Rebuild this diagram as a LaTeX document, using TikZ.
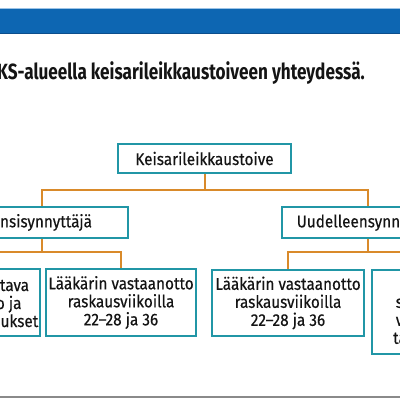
\documentclass[tikz,border=0pt]{standalone}
\usepackage{fontspec}
\setmainfont{Fira Sans}[FakeStretch=0.9, FakeBold=0.4]
\newfontfamily\titlefam{Fira Sans}[FakeStretch=0.78]
\definecolor{boxc}{HTML}{2196A6}
\definecolor{orng}{HTML}{D98A2A}
\definecolor{bandc}{HTML}{0D66B2}
\definecolor{bandl}{HTML}{9CC3E6}
\definecolor{bandd}{HTML}{0B4E8C}
\definecolor{txt}{HTML}{141414}
\definecolor{rule}{HTML}{8A8A8A}
\newcommand\nodefnt{\fontsize{17}{18}\selectfont}
\newcommand\titlefnt{\titlefam\fontsize{22}{25}\selectfont\bfseries}
\tikzset{
  box/.style={draw=boxc, line width=2pt, fill=white, inner sep=0pt, align=center, font=\nodefnt, text=txt},
  conn/.style={draw=orng, line width=2pt},
}
\begin{document}
\begin{tikzpicture}[x=1pt,y=-1pt]
\useasboundingbox (0,0) rectangle (400,400);
\fill[white] (0,0) rectangle (400,400);
% header band
\fill[bandl] (0,7.5) rectangle (400,9.5);
\fill[bandc] (0,9) rectangle (400,34);
\fill[bandd] (0,32.8) rectangle (400,34);
% bottom rule
\fill[rule] (0,396.3) rectangle (400,397.6);
% title
\node[anchor=base east, inner sep=0pt, text=txt, font=\titlefnt] (title) at (365,79) {HYKS-alueella keisarileikkaustoiveen yhteydessä.};
% nodes
\node[box, minimum width=173pt, minimum height=29pt] (root) at (204.5,158.5) {Keisarileikkaustoive};
\node[box, minimum width=172pt, minimum height=31pt] (ens) at (42,222.5) {Ensisynnyttäjä};
\node[box, minimum width=172pt, minimum height=31pt] (uud) at (368,222.5) {Uudelleensynnyttäjä};
\node[box, minimum width=152pt, minimum height=67pt] (a1) at (-36,302.5) {Ensin kartoitettava\\synnytyspelko ja\\aiemmat kokemukset};
\node[box, minimum width=150pt, minimum height=67pt] (a2) at (121,302.5) {Lääkärin vastaanotto\\raskausviikoilla\\22--28 ja 36};
\node[box, minimum width=152pt, minimum height=66pt] (b1) at (288,303) {Lääkärin vastaanotto\\raskausviikoilla\\22--28 ja 36};
\node[box, minimum width=152pt, minimum height=84pt] (b2) at (448,312) {Kätilön\\synnytyspelko-\\vastaanotto tai\\tarvittaessa ym.};
% connectors
\coordinate (j1) at (205,190);
\coordinate (j2) at (0,251.5);
\draw[conn] (root.south) -- (root.south |- j1);
\draw[conn] (ens.north) -- (ens.north |- j1) -- (uud.north |- j1) -- (uud.north);
\draw[conn] (ens.south) -- (ens.south |- j2);
\draw[conn] (a1.north) -- (a1.north |- j2) -- (a2.north |- j2) -- (a2.north);
\draw[conn] (uud.south) -- (uud.south |- j2);
\draw[conn] (b1.north) -- (b1.north |- j2) -- (b2.north |- j2) -- (b2.north);
\end{tikzpicture}
\end{document}
